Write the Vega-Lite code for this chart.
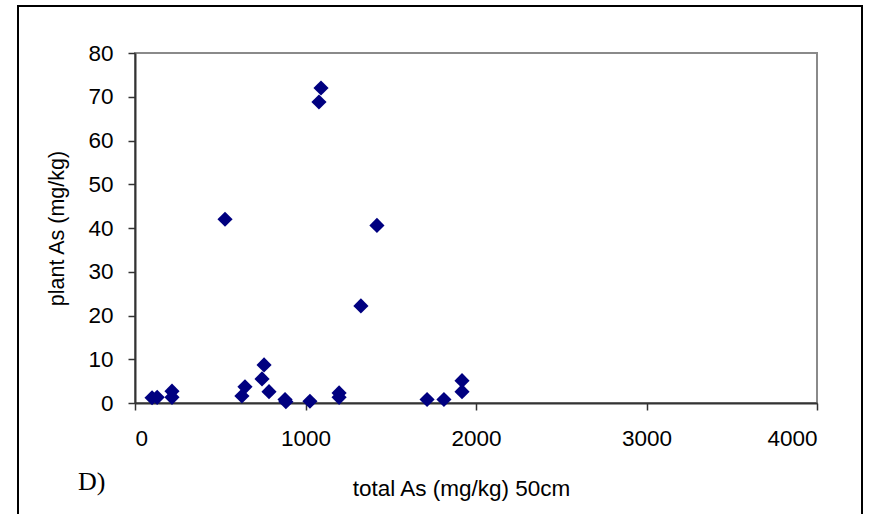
{
  "$schema": "https://vega.github.io/schema/vega-lite/v6.json",
  "width": 682,
  "height": 350,
  "autosize": {"type": "none"},
  "padding": {"left": 135, "top": 53, "right": 54, "bottom": 111},
  "background": "white",
  "config": {
    "view": {"stroke": "#8a8a8a", "strokeWidth": 2},
    "font": "Liberation Sans"
  },
  "title": {
    "text": "D)",
    "orient": "bottom",
    "anchor": "start",
    "frame": "group",
    "font": "Liberation Serif",
    "fontSize": 26,
    "fontWeight": "normal",
    "color": "black",
    "dx": -57,
    "offset": -52
  },
  "data": {
    "values": [
      {"total_As": 100, "plant_As": 1.2},
      {"total_As": 130, "plant_As": 1.3},
      {"total_As": 217, "plant_As": 2.7},
      {"total_As": 217, "plant_As": 1.3},
      {"total_As": 528, "plant_As": 42.0},
      {"total_As": 627, "plant_As": 1.6},
      {"total_As": 645, "plant_As": 3.7},
      {"total_As": 745, "plant_As": 5.5},
      {"total_As": 757, "plant_As": 8.7},
      {"total_As": 786, "plant_As": 2.6},
      {"total_As": 880, "plant_As": 0.8},
      {"total_As": 885, "plant_As": 0.3},
      {"total_As": 1026, "plant_As": 0.4},
      {"total_As": 1079, "plant_As": 68.8},
      {"total_As": 1091, "plant_As": 72.0},
      {"total_As": 1197, "plant_As": 2.3},
      {"total_As": 1197, "plant_As": 1.3},
      {"total_As": 1325, "plant_As": 22.2},
      {"total_As": 1419, "plant_As": 40.6},
      {"total_As": 1713, "plant_As": 0.8},
      {"total_As": 1812, "plant_As": 0.8},
      {"total_As": 1918, "plant_As": 5.1},
      {"total_As": 1918, "plant_As": 2.6}
    ]
  },
  "layer": [
    {
      "mark": {"type": "rect", "fill": null, "stroke": "black", "strokeWidth": 1.5, "clip": false},
      "encoding": {
        "x": {"datum": -686},
        "x2": {"datum": 4264},
        "y": {"datum": 90.7},
        "y2": {"datum": -26.7}
      }
    },
    {
      "mark": {"type": "point", "shape": "diamond", "filled": true, "color": "#000080", "size": 230, "opacity": 1},
      "encoding": {
        "x": {
          "field": "total_As",
          "type": "quantitative",
          "scale": {"domain": [0, 4000], "nice": false, "zero": false},
          "axis": {
            "title": "total As (mg/kg) 50cm",
            "values": [0, 1000, 2000, 3000, 4000],
            "format": "d",
            "grid": false,
            "domainColor": "#333333",
            "domainWidth": 2,
            "tickColor": "#333333",
            "tickSize": 7,
            "tickWidth": 1.5,
            "labelFontSize": 22.5,
            "labelColor": "black",
            "labelFont": "Liberation Sans",
            "labelPadding": 17,
            "titleFontSize": 22.5,
            "titleFontWeight": "normal",
            "titleColor": "black",
            "titleFont": "Liberation Sans",
            "titlePadding": 28,
            "titleX": 326,
            "titleAlign": "center"
          }
        },
        "y": {
          "field": "plant_As",
          "type": "quantitative",
          "scale": {"domain": [0, 80], "nice": false, "zero": false},
          "axis": {
            "title": "plant As (mg/kg)",
            "values": [0, 10, 20, 30, 40, 50, 60, 70, 80],
            "format": "d",
            "grid": false,
            "domainColor": "#333333",
            "domainWidth": 2,
            "tickColor": "#333333",
            "tickSize": 7,
            "tickWidth": 1.5,
            "labelFontSize": 22.5,
            "labelColor": "black",
            "labelFont": "Liberation Sans",
            "labelPadding": 15,
            "titleFontSize": 21.5,
            "titleFontWeight": "normal",
            "titleColor": "black",
            "titleFont": "Liberation Sans",
            "titleX": -78,
            "titleBaseline": "middle",
            "titleAngle": -90
          }
        }
      }
    }
  ]
}
